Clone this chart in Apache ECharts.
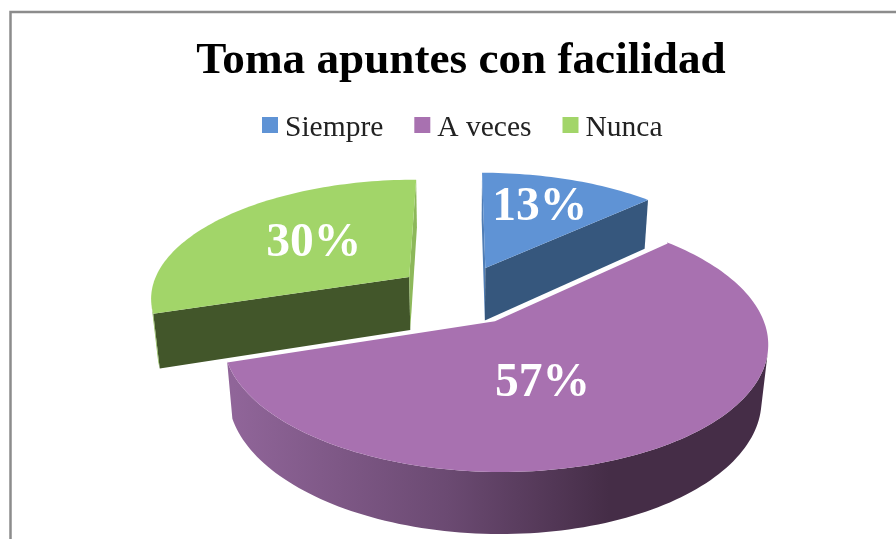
<!DOCTYPE html>
<html>
<head>
<meta charset="utf-8">
<style>html,body{margin:0;padding:0;background:#fff}#c{width:896px;height:539px}</style>
<script src="https://cdn.jsdelivr.net/npm/echarts@6/dist/echarts.min.js"></script>
</head>
<body>
<div id="c"></div>
<script>
var titleText = 'Toma apuntes con facilidad';
var categories = ['Siempre', 'A veces', 'Nunca'];
var values = [13, 57, 30];

var topColors = ['#5f93d5', '#a871b0', '#a2d569'];
var wallColors = ['#36577d', '#452d47', '#42562a'];
var sliverColors = ['#4f7db5', '#8e6396', '#8db85a'];
var drawOrder = [1, 3, 2];
// where each label sits: fraction of the slice's sweep, fraction of its radius
var labelSweep = [0.445, 0.555, 0.539];
var labelRadius = [0.688, 0.46, 0.54];

// perspective camera for the tilted, exploded pie
var cam = { px: 460.5, py: 294, f: 259.5, g: 118, k: 0.16, m: 0.021, h: 55, explode: 0.25 };
var FONT = '"Liberation Serif"';

function project(X, Y, Z) {
  var w = 1 + cam.k * Y + cam.m * Z;
  return [cam.px + cam.f * X / w, cam.py + (-cam.g * Y + cam.h * Z) / w];
}
var total = values.reduce(function (a, b) { return a + b; }, 0);
function startShare(i) {
  var s = 0;
  for (var j = 0; j < i; j++) s += values[j];
  return s / total;
}
function isFacing(p, q) {
  var a = project(p[0], p[1], 0), b = project(q[0], q[1], 0),
      c = project(q[0], q[1], 1), d = project(p[0], p[1], 1);
  var pts = [a, b, c, d], sum = 0;
  for (var i = 0; i < 4; i++) {
    var u = pts[i], v = pts[(i + 1) % 4];
    sum += u[0] * v[1] - v[0] * u[1];
  }
  return sum < 0;
}
function wallPolygon(list) {
  var top = list.map(function (p) { return project(p[0], p[1], 0); });
  var bot = list.slice().reverse().map(function (p) { return project(p[0], p[1], 1); });
  return top.concat(bot);
}

function renderSlice(params, api) {
  var i = params.seriesIndex;
  var v = api.value(0);
  var a0 = startShare(i) * Math.PI * 2;
  var sweep = v / total * Math.PI * 2;
  var mid = a0 + sweep / 2;
  var cx = cam.explode * Math.sin(mid), cy = cam.explode * Math.cos(mid);
  var steps = Math.max(8, Math.round(sweep * 40));
  var arc = [];
  for (var s = 0; s <= steps; s++) {
    var t = a0 + sweep * s / steps;
    arc.push([cx + Math.sin(t), cy + Math.cos(t)]);
  }
  var apex = [cx, cy];
  var kids = [];
  [[apex, arc[0]], [arc[steps], apex]].forEach(function (e) {
    if (isFacing(e[0], e[1])) {
      var d = Math.abs(project(e[0][0], e[0][1], 0)[0] - project(e[1][0], e[1][1], 0)[0]);
      kids.push({
        type: 'polygon',
        shape: { points: wallPolygon(e) },
        style: { fill: d < 30 ? sliverColors[i] : wallColors[i] }
      });
    }
  });
  var vis = [];
  for (var s2 = 0; s2 < steps; s2++) {
    if (isFacing(arc[s2], arc[s2 + 1])) {
      if (!vis.length) vis.push(arc[s2]);
      vis.push(arc[s2 + 1]);
    }
  }
  if (vis.length > 1) {
    var fill = i === 1 ? new echarts.graphic.LinearGradient(233, 0, 770, 0, [
      { offset: 0, color: '#906599' },
      { offset: 0.4, color: '#6b4a72' },
      { offset: 0.7, color: '#452d47' },
      { offset: 1, color: '#452d47' }
    ], true) : sliverColors[i];
    kids.push({ type: 'polygon', shape: { points: wallPolygon(vis) }, style: { fill: fill } });
  }
  var topPts = [project(cx, cy, 0)].concat(arc.map(function (p) { return project(p[0], p[1], 0); }));
  kids.push({ type: 'polygon', shape: { points: topPts }, style: { fill: topColors[i] } });
  if (i === 1) {
    kids.push({
      type: 'polyline',
      shape: { points: [topPts[1], topPts[0], topPts[topPts.length - 1]] },
      style: { stroke: '#fff', lineWidth: 2, fill: null }
    });
  }
  var la = a0 + sweep * labelSweep[i], lr = labelRadius[i];
  var lp = project(cx + lr * Math.sin(la), cy + lr * Math.cos(la), 0);
  kids.push({
    type: 'text',
    style: {
      text: v + '%', x: lp[0] + 1, y: lp[1] + 4, fill: '#fff',
      fontFamily: FONT, fontWeight: 'bold', fontSize: 47.5,
      textAlign: 'center', textVerticalAlign: 'middle'
    }
  });
  return { type: 'group', children: kids };
}

var chart = echarts.init(document.getElementById('c'), null, { renderer: 'canvas' });
chart.setOption({
  animation: false,
  backgroundColor: '#fff',
  tooltip: { show: false },
  graphic: [{
    type: 'rect', silent: true,
    shape: { x: 10.5, y: 12, width: 1000, height: 700 },
    style: { fill: null, stroke: '#8c8c8c', lineWidth: 2.5 }
  }],
  title: {
    text: titleText, left: 456, top: 34, textAlign: 'center',
    textStyle: { fontFamily: FONT, fontWeight: 'bold', fontSize: 45.2, color: '#000' }
  },
  legend: {
    data: categories, left: 257, top: 108, itemWidth: 16, itemHeight: 16, itemGap: 31,
    icon: 'rect', selectedMode: false,
    formatter: '{n|{name}}',
    textStyle: {
      rich: { n: { fontFamily: FONT, fontSize: 29.5, color: '#222', padding: [6, 0, 0, 2] } }
    }
  },
  series: categories.map(function (name, i) {
    return {
      type: 'custom', name: name, coordinateSystem: 'none', z: drawOrder[i],
      itemStyle: { color: topColors[i] }, silent: true,
      renderItem: renderSlice, data: [[values[i]]]
    };
  })
});
</script>
</body>
</html>
